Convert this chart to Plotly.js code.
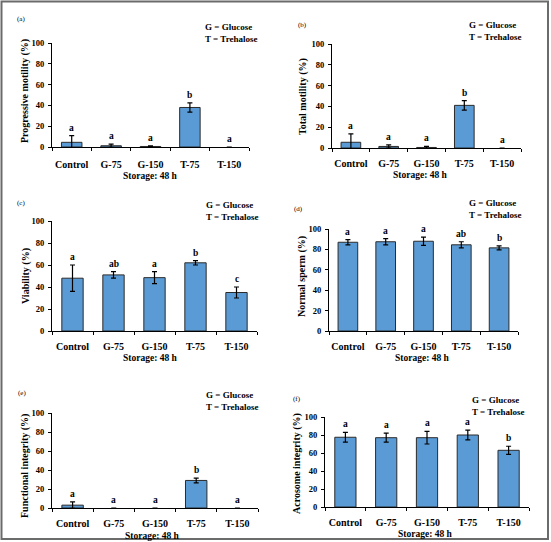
<!DOCTYPE html>
<html>
<head>
<meta charset="utf-8">
<script src="https://cdn.plot.ly/plotly-3.0.1.min.js"></script>
<style>html,body{margin:0;padding:0;background:#fff;}#chart{width:551px;height:542px;}</style>
</head>
<body>
<div id="chart"></div>
<script>
const categories = ["Control", "G-75", "G-150", "T-75", "T-150"];
const yTickVals = [0, 20, 40, 60, 80, 100];

const progressiveMotility = [4.5, 1.2, 0.5, 38, 0];
const progressiveMotilityErr = [6.5, 1.5, 0.5, 4.5, 0];
const progressiveMotilityLetters = ["a", "a", "a", "b", "a"];

const totalMotility = [5.5, 1.5, 0.5, 41, 0];
const totalMotilityErr = [8, 1.5, 1, 4.5, 0];
const totalMotilityLetters = ["a", "a", "a", "b", "a"];

const viability = [48, 51, 48.5, 62, 35];
const viabilityErr = [12, 3, 5.5, 2, 5];
const viabilityLetters = ["a", "ab", "a", "b", "c"];

const normalSperm = [87, 87.5, 88, 84.5, 81.5];
const normalSpermErr = [2.5, 3, 4, 3, 2];
const normalSpermLetters = ["a", "a", "a", "ab", "b"];

const functionalIntegrity = [3, 0, 0, 29, 0];
const functionalIntegrityErr = [3.5, 0, 0, 2.5, 0];
const functionalIntegrityLetters = ["a", "a", "a", "b", "a"];

const acrosomeIntegrity = [77.5, 77, 77, 80, 63];
const acrosomeIntegrityErr = [5.5, 5, 7, 5.5, 4.5];
const acrosomeIntegrityLetters = ["a", "a", "a", "a", "b"];

const panelLabels = ["(a)", "(b)", "(c)", "(d)", "(e)", "(f)"];
const yTitles = ["Progressive motility (%)", "Total motility (%)", "Viability (%)",
  "Normal sperm (%)", "Functional integrity (%)", "Acrosome integrity (%)"];
const xTitle = "Storage: 48 h";
const legendLine1 = "G = Glucose";
const legendLine2 = "T = Trehalose";

const W = 551, H = 542;
const FONT = "Liberation Serif, Times New Roman, serif";
const panels = [
  {v: progressiveMotility, e: progressiveMotilityErr, l: progressiveMotilityLetters,
   px: [52, 249], py: [43, 147], lab: [21, 19], leg: [203, 27], yt: [25, 91], xt: [150, 176], so: 8},
  {v: totalMotility, e: totalMotilityErr, l: totalMotilityLetters,
   px: [332, 521], py: [44, 148], lab: [302, 25], leg: [467, 25], yt: [303, 97], xt: [420, 175], so: 6},
  {v: viability, e: viabilityErr, l: viabilityLetters,
   px: [52, 257], py: [221, 331], lab: [21, 203], leg: [204, 205], yt: [26, 276], xt: [150, 358], so: 6},
  {v: normalSperm, e: normalSpermErr, l: normalSpermLetters,
   px: [329, 518], py: [229, 331], lab: [298, 209], leg: [467, 203], yt: [302, 277], xt: [422, 358], so: 6},
  {v: functionalIntegrity, e: functionalIntegrityErr, l: functionalIntegrityLetters,
   px: [52, 258], py: [413, 508], lab: [22, 393], leg: [204, 395], yt: [25, 466], xt: [152, 536], so: 6},
  {v: acrosomeIntegrity, e: acrosomeIntegrityErr, l: acrosomeIntegrityLetters,
   px: [325, 529], py: [417, 507], lab: [297, 399], leg: [470, 400], yt: [297, 464], xt: [425, 534], so: 6}
];

const fx = p => p / W;
const fy = p => 1 - p / H;

const data = [];
const layout = {
  width: W, height: H,
  margin: {l: 0, r: 0, t: 0, b: 0},
  paper_bgcolor: "#ffffff",
  plot_bgcolor: "#ffffff",
  showlegend: false,
  font: {family: FONT, color: "#000", weight: "bold"},
  annotations: [],
  shapes: [{
    type: "rect", xref: "paper", yref: "paper",
    x0: fx(1.5), x1: fx(548), y0: fy(539), y1: fy(1.5),
    line: {color: "#6b6b6b", width: 2}
  }]
};

panels.forEach((p, i) => {
  const n = i + 1;
  const xa = n === 1 ? "x" : "x" + n;
  const ya = n === 1 ? "y" : "y" + n;
  data.push({
    type: "bar", x: categories, y: p.v, xaxis: xa, yaxis: ya,
    width: 0.52,
    marker: {color: "#5b9bd5", line: {color: "#2b2b2b", width: p.v.map(v => v > 0 ? 1 : 0)}},
    error_y: {type: "data", array: p.e.map(e => e > 0 ? e : null), visible: true, color: "#000", thickness: 1.2, width: 2.5},
    hoverinfo: "none"
  });
  const xk = n === 1 ? "xaxis" : "xaxis" + n;
  const yk = n === 1 ? "yaxis" : "yaxis" + n;
  layout[xk] = {
    domain: [fx(p.px[0]), fx(p.px[1])], anchor: ya,
    type: "category", range: [-0.5, 4.5],
    showline: true, linecolor: "#000", linewidth: 1,
    ticks: "outside", tickson: "boundaries", ticklen: 3, tickcolor: "#000",
    ticklabelstandoff: p.so, tickangle: 0,
    showgrid: false, zeroline: false,
    tickfont: {family: FONT, size: 10, color: "#000", weight: "bold"}
  };
  layout[yk] = {
    domain: [fy(p.py[1]), fy(p.py[0])], anchor: xa,
    range: [0, 100], tickvals: yTickVals,
    showline: true, linecolor: "#000", linewidth: 1,
    ticks: "outside", ticklen: 3, tickcolor: "#000",
    ticklabelstandoff: 2,
    showgrid: false, zeroline: false,
    tickfont: {family: FONT, size: 8.5, color: "#000", weight: "bold"}
  };
  categories.forEach((c, k) => {
    layout.annotations.push({
      xref: xa, yref: ya, x: c, y: p.v[k] + p.e[k],
      yanchor: "bottom", xanchor: "center", yshift: 1,
      text: p.l[k], showarrow: false,
      font: {family: FONT, size: 9.5, color: "#000", weight: "bold"}
    });
  });
  layout.annotations.push({
    xref: "paper", yref: "paper", x: fx(p.lab[0]), y: fy(p.lab[1]),
    xanchor: "center", yanchor: "middle", text: panelLabels[i], showarrow: false,
    font: {family: FONT, size: 7, color: "#000", weight: "normal"}
  });
  layout.annotations.push({
    xref: "paper", yref: "paper", x: fx(p.leg[0]), y: fy(p.leg[1]),
    xanchor: "left", yanchor: "middle", text: legendLine1, showarrow: false,
    font: {family: FONT, size: 9, color: "#000", weight: "bold"}
  });
  layout.annotations.push({
    xref: "paper", yref: "paper", x: fx(p.leg[0]), y: fy(p.leg[1] + 12),
    xanchor: "left", yanchor: "middle", text: legendLine2, showarrow: false,
    font: {family: FONT, size: 9, color: "#000", weight: "bold"}
  });
  layout.annotations.push({
    xref: "paper", yref: "paper", x: fx(p.yt[0]), y: fy(p.yt[1]),
    xanchor: "center", yanchor: "middle", textangle: -90, text: yTitles[i], showarrow: false,
    font: {family: FONT, size: 10, color: "#000", weight: "bold"}
  });
  layout.annotations.push({
    xref: "paper", yref: "paper", x: fx(p.xt[0]), y: fy(p.xt[1]),
    xanchor: "center", yanchor: "middle", text: xTitle, showarrow: false,
    font: {family: FONT, size: 9.5, color: "#000", weight: "bold"}
  });
});

Plotly.newPlot("chart", data, layout, {staticPlot: true, displayModeBar: false});
</script>
</body>
</html>
